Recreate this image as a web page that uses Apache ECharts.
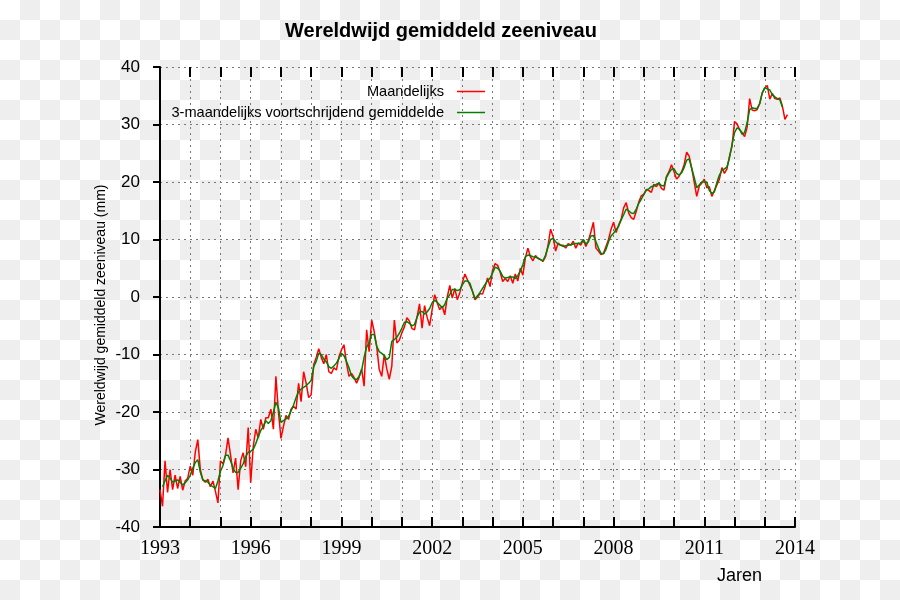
<!DOCTYPE html>
<html>
<head>
<meta charset="utf-8">
<script src="https://cdn.jsdelivr.net/npm/echarts@6/dist/echarts.min.js"></script>
<style>html,body{margin:0;padding:0;}#c{width:900px;height:600px;}</style>
</head>
<body>
<div id="c"></div>
<script>
// ---- data (monthly, starting January 1993) ----
const startYear = 1993;
const monthly = [
-33.5,-36.4,-28.5,-34,-30,-33.5,-31,-33.3,-31.2,-33.6,-32,-31.5,
-29.4,-31,-27,-24.8,-30,-31.8,-32.2,-31.7,-33,-32,-33.8,-35.8,
-28.5,-29,-27.5,-24.5,-27.5,-30.6,-28,-33.5,-28.5,-27.1,-29.5,-22.7,
-32.3,-26,-23,-24.5,-21.3,-23,-21,-21,-19.5,-23,-13.8,-20,
-24.6,-22.5,-20.6,-21.3,-19.5,-19,-19.5,-15,-18.2,-13,-15,-17.5,
-17,-11.8,-10.5,-9,-10.5,-11.6,-10,-13,-13.3,-12.3,-12.7,-10.4,
-9.2,-8.3,-11.5,-13.8,-13.3,-14,-15,-14,-12.5,-15.5,-5.7,-9.5,
-4,-6,-8.6,-12.6,-13.8,-10,-12.5,-14.3,-12,-4,-8,-7.5,
-6.2,-5.2,-3.6,-4.2,-5.5,-5.7,-3.5,-1.2,-5.4,-1.5,-3.5,-5,
-2.2,0.4,-1,-2.2,-1.6,-3.1,0,2,-0.2,1.5,-0.5,0.8,
2.5,4,3,2,1,-0.5,0,0.6,0.5,1.8,3.3,1.8,
4.7,5.8,5.5,4.3,2.7,3.2,2.7,3.7,2.4,4,2.8,5,
3.8,6.8,8.5,7,6.3,7.2,6.7,6.5,6.2,7,9,11.8,
10.5,8,9.4,9,9,8.5,9.3,9,9.7,8.5,9.4,9,
10,8.8,9.8,11.3,13,8.5,8,7.4,7.6,8.8,10,11.8,
13,11.2,12.5,13.5,15.5,16.4,14.6,13.8,13.5,14.9,16.5,17.6,
17.9,18.7,18.5,18.2,19.6,19.2,19.8,18.9,18.6,21,21.8,23,
21.8,20.5,21,21.8,23,25.2,24.5,22.4,20,17.5,19.3,19.8,
20.5,19,19.2,17.5,18.5,19.5,20.5,22.5,21.5,22.3,24.5,26.2,
30.5,30.1,29.1,28.6,27.9,29.5,34.5,32.5,32.4,32.6,33.6,35.5,
36.3,36.8,34.4,35.4,34.5,34.4,34.6,33.2,30.9,31.7
];
const running3 = [
null,-33,-32,-31,-31.5,-32.2,-32,-31.8,-32.2,-32.7,-32.3,-31.8,
-31,-29.8,-28.8,-28.3,-30.5,-31.8,-32,-32.2,-32.7,-33,-33.3,-32,
-30.3,-29.3,-27.5,-27.5,-28.5,-29.8,-30.5,-30.5,-29.8,-29,-27.8,-27,
-26.8,-26.5,-25.5,-24.3,-23.2,-22.5,-21.5,-22,-21.5,-20,-18.3,-19.3,
-21.8,-21.5,-21.2,-20.8,-19.8,-18.8,-17.5,-16.5,-16,-15.7,-15.4,-15,
-14.5,-12.1,-11.2,-9.8,-10,-10.8,-11.3,-12.1,-12.4,-12,-11.5,-10.7,
-9.8,-10.2,-11.2,-12.3,-13.7,-14.2,-14.4,-13.8,-12.8,-10.5,-8.7,-8,
-6.5,-6.5,-8.6,-9.5,-9.8,-10.2,-10.9,-10.5,-7.7,-7.4,-7,-6.3,
-5.4,-4.4,-4.3,-4.6,-5,-4.8,-3.5,-2.6,-2.5,-3,-2.6,-2,
-1,-0.6,-0.9,-1.4,-1.9,-1.3,-0.2,0.4,1.3,1.3,1.1,1.3,
2.1,2.8,2.8,2.4,1,-0.3,0.2,0.8,1.5,2.2,2.8,3.3,
4.2,5.2,5,4.5,3.6,3.3,3.4,3.5,3.5,3.2,3.7,4.5,
5.6,7,7.3,7.2,7,6.9,6.8,6.5,6.3,7.3,8.7,10,
10.2,9.6,9.2,9,8.8,8.9,9,9.1,9.2,9.3,9.3,9.4,
10,9.2,9.6,10.6,10.7,9.6,8.5,7.6,7.5,8.3,9.6,10.6,
11.1,11.7,12.3,13.4,14.3,15.3,15,14.6,14.5,15.3,16.3,17,
17.8,18.6,18.8,19.2,19.3,19.6,19.8,19.4,19.3,20.8,21.6,22.2,
22.3,21.5,21.2,21.6,22.5,23.8,24,22.4,20.8,19,19.5,20,
20,20,18.5,18,18.3,19.9,21.2,22,22.3,22.6,24.2,26.5,
28.6,29.4,29.2,28.3,28.6,30.3,32.6,32.9,32.8,32.8,33.7,35.5,
36.4,36.2,36,35.2,34.8,34.5,34.3,33
];
const xLabelYears = [1993, 1996, 1999, 2002, 2005, 2008, 2011, 2014];
const seriesNames = ['Maandelijks', '3-maandelijks voortschrijdend gemiddelde'];
const titleText = 'Wereldwijd gemiddeld zeeniveau';
const yName = 'Wereldwijd gemiddeld zeeniveau (mm)';
const xName = 'Jaren';

// ---- build ----
function toPairs(arr) {
  const out = [];
  arr.forEach((v, i) => { if (v !== null) out.push([startYear + i / 12, v]); });
  return out;
}

// checkerboard background
const pc = document.createElement('canvas');
pc.width = 40; pc.height = 40;
const pctx = pc.getContext('2d');
pctx.fillStyle = '#ffffff'; pctx.fillRect(0, 0, 40, 40);
pctx.fillStyle = '#eeeeee'; pctx.fillRect(20, 0, 20, 20); pctx.fillRect(0, 20, 20, 20);

const grid = '#777777';
const chart = echarts.init(document.getElementById('c'), null, {renderer: 'canvas'});
chart.setOption({
  animation: false,
  backgroundColor: {image: pc, repeat: 'repeat'},
  title: {
    text: titleText, left: 280, top: 16,
    textStyle: {fontFamily: 'Liberation Sans', fontSize: 20, fontWeight: 'bold', color: '#000'}
  },
  legend: {
    data: seriesNames, orient: 'vertical', right: 415, top: 84, padding: 0,
    align: 'right', icon: 'rect', itemWidth: 28, itemHeight: 1.5, itemGap: 6,
    textStyle: {fontFamily: 'Liberation Sans', fontSize: 14.6, color: '#000', padding: [0, 8, 0, 0]}
  },
  grid: {left: 160, right: 105, top: 67, bottom: 73},
  xAxis: [{
    type: 'value', min: 1993, max: 2014, interval: 1,
    axisLine: {show: true, onZero: false, lineStyle: {color: '#000', width: 2}},
    axisTick: {show: true, inside: true, length: 10, lineStyle: {color: '#000', width: 2}},
    axisLabel: {
      margin: 12, fontFamily: 'Liberation Serif', fontSize: 20, color: '#000',
      formatter: v => xLabelYears.indexOf(Math.round(v)) >= 0 ? String(Math.round(v)) : ''
    },
    splitLine: {show: true, lineStyle: {color: grid, width: 1, type: [2, 4]}}
  }, {
    type: 'value', min: 1993, max: 2014, interval: 1, position: 'top',
    axisLine: {show: false, onZero: false},
    axisTick: {show: true, inside: true, length: 10, lineStyle: {color: '#000', width: 2}},
    axisLabel: {show: false}, splitLine: {show: false}
  }],
  yAxis: {
    type: 'value', min: -40, max: 40, interval: 10,
    name: yName, nameLocation: 'middle', nameGap: 52, nameRotate: 90, nameMoveOverlap: false,
    nameTextStyle: {fontFamily: 'Liberation Sans', fontSize: 14, color: '#000', padding: [0, 16, 0, 0]},
    axisLine: {show: true, onZero: false, lineStyle: {color: '#000', width: 2}},
    axisTick: {show: true, inside: false, length: 7, lineStyle: {color: '#000', width: 2}},
    axisLabel: {margin: 20, fontFamily: 'Liberation Sans', fontSize: 17, color: '#000'},
    splitLine: {show: true, lineStyle: {color: grid, width: 1, type: [2, 4]}}
  },
  graphic: [{
    type: 'text', left: 717, top: 567,
    style: {text: xName, font: '18px "Liberation Sans"', fill: '#000'}
  }],
  series: [{
    name: seriesNames[0], type: 'line', data: toPairs(monthly),
    symbol: 'none', showSymbol: false, color: '#ff0000',
    lineStyle: {color: '#ff0000', width: 1.5}, z: 2
  }, {
    name: seriesNames[1], type: 'line', data: toPairs(running3),
    symbol: 'none', showSymbol: false, color: '#008000',
    lineStyle: {color: '#008000', width: 1.5}, z: 3
  }]
});
</script>
</body>
</html>
